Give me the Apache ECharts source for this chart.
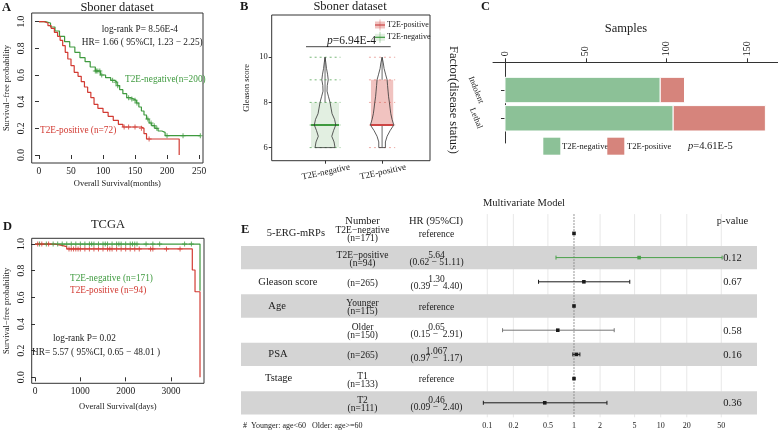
<!DOCTYPE html>
<html>
<head>
<meta charset="utf-8">
<script src="https://cdn.jsdelivr.net/npm/echarts@6/dist/echarts.min.js"></script>
<style>
html, body { margin: 0; padding: 0; background: #fff; }
#chart { width: 778px; height: 430px; }
</style>
</head>
<body>
<div id="chart"></div>
<script>
// ---- A: Sboner dataset, Kaplan-Meier ----
const aNegTime = [0, 10, 18, 25, 32, 40, 48, 56, 64, 72, 80, 88, 96, 104, 112, 118, 122, 126, 131, 137, 143, 148, 152, 156, 160, 164, 168, 172, 176, 181, 186, 192, 197, 252];
const aNegSurv = [1, 0.99, 0.96, 0.93, 0.89, 0.85, 0.81, 0.77, 0.73, 0.70, 0.66, 0.63, 0.60, 0.58, 0.56, 0.545, 0.52, 0.49, 0.46, 0.43, 0.42, 0.41, 0.39, 0.36, 0.33, 0.30, 0.27, 0.24, 0.22, 0.20, 0.18, 0.17, 0.145, 0.145];
const aPosTime = [0, 8, 14, 19, 24, 29, 33, 37, 41, 45, 50, 55, 61, 66, 71, 76, 81, 86, 92, 100, 108, 116, 124, 131, 160, 164, 168, 219];
const aPosSurv = [1, 0.99, 0.97, 0.95, 0.92, 0.89, 0.86, 0.82, 0.77, 0.72, 0.67, 0.62, 0.59, 0.55, 0.51, 0.47, 0.43, 0.38, 0.35, 0.32, 0.29, 0.26, 0.23, 0.21, 0.20, 0.16, 0.12, 0];
const aNegCensor = [88, 90, 92, 95, 98, 115, 120, 123, 140, 145, 150, 153, 170, 175, 180, 184, 200, 225, 252];
const aPosCensor = [133, 140, 150, 160, 172];
const aXTicks = [0, 50, 100, 150, 200, 250];
const kmYTicks = [0, 0.2, 0.4, 0.6, 0.8, 1];

// ---- B: Gleason score violin / box ----
const bGroups = ['T2E-negative', 'T2E-positive'];
const bQ1 = [6, 7];
const bMedian = [7, 7];
const bQ3 = [8, 9];
const bWhiskLow = [6, 6];
const bWhiskHigh = [10, 10];
const bLevels = [6, 6.25, 6.5, 6.75, 7, 7.25, 7.5, 7.75, 8, 8.25, 8.5, 8.75, 9, 9.25, 9.5, 9.75, 10];
const bNegDensity = [0.175, 0.158, 0.118, 0.149, 0.188, 0.167, 0.123, 0.105, 0.088, 0.061, 0.035, 0.039, 0.056, 0.044, 0.026, 0.014, 0];
const bPosDensity = [0.058, 0.058, 0.088, 0.14, 0.205, 0.175, 0.153, 0.14, 0.128, 0.114, 0.105, 0.096, 0.088, 0.061, 0.035, 0.021, 0];
const bPointLevels = [6, 7, 8, 9, 10];
const bYTicks = [6, 8, 10];

// ---- C: samples by disease status ----
const cCategories = ['Indolent', 'Lethal'];
const cNeg = [96, 104];
const cPos = [15, 57];
const cXTicks = [0, 50, 100, 150];

// ---- D: TCGA, Kaplan-Meier ----
const dNegTime = [0, 3640];
const dNegSurv = [1, 0.65];
const dPosTime = [0, 420, 590, 700, 3470, 3530, 3640];
const dPosSurv = [1, 0.99, 0.98, 0.963, 0.805, 0.642, 0];
const dNegCensor = [100, 250, 400, 500, 600, 700, 800, 900, 1000, 1100, 1200, 1250, 1300, 1400, 1500, 1550, 1600, 1700, 1800, 1850, 1900, 2000, 2100, 2150, 2200, 2250, 2450, 2600, 2750, 3300, 3450];
const dPosCensor = [60, 150, 300, 750, 800, 850, 900, 950, 1000, 1100, 1200, 1300, 1400, 1500, 1600, 1650, 1700, 1800, 1900, 2000, 2100, 2200, 2300, 2550, 2600, 2900, 3200];
const dXTicks = [0, 1000, 2000, 3000];

// ---- E: multivariate model ----
const eVariables = ['5-ERG-mRPs', '', 'Gleason score', 'Age', '', 'PSA', 'Tstage', ''];
const eNumbers = ['T2E\u2212negative\n(n=171)', 'T2E\u2212positive\n(n=94)', '(n=265)', 'Younger\n(n=115)', 'Older\n(n=150)', '(n=265)', 'T1\n(n=133)', 'T2\n(n=111)'];
const eHRText = ['reference', '5.64\n(0.62 \u2212 51.11)', '1.30\n(0.39 \u2212  4.40)', 'reference', '0.65\n(0.15 \u2212  2.91)', '1.067\n(0.97 \u2212  1.17)', 'reference', '0.46\n(0.09 \u2212  2.40)'];
const eHR = [1, 5.64, 1.30, 1, 0.65, 1.067, 1, 0.46];
const eLow = [null, 0.62, 0.39, null, 0.15, 0.97, null, 0.09];
const eHigh = [null, 51.11, 4.40, null, 2.91, 1.17, null, 2.40];
const ePValues = ['', '0.12', '0.67', '', '0.58', '0.16', '', '0.36'];
const eTicks = [0.1, 0.2, 0.5, 1, 2, 5, 10, 20, 50];
const eBandRows = [2, 4, 6, 8];

// ---- styles / layout ----
const FONT = 'Liberation Serif';
const INK = '#1a1a1a';
const GREEN = '#3f9a3f';
const RED = '#d23a32';
const BAR_GREEN = '#8cc197';
const BAR_RED = '#d6847c';
const PLUS = 'path://M4,0H6V4H10V6H6V10H4V6H0V4H4Z';
const bBoxHalf = [0.245, 0.195];
const bBoxFill = ['#e2efe1', '#f1c3c0'];
const bLineColor = [GREEN, '#cc4646'];
const bDashColor = ['rgba(63,154,63,0.7)', 'rgba(210,70,60,0.45)'];
const bJitterHalf = [0.27, 0.23];
const eColors = [INK, '#49a049', INK, INK, '#777', INK, INK, INK];
const eVarX = [266.7, 0, 258.3, 268.3, 0, 268.3, 265, 0];
const eNumX = 362.5, eHRX = 436.5, ePX = 723.3;

const zip = (xs, ys) => xs.map((x, i) => [x, ys[i]]);
function stepAt(times, surv, t) {
    let s = surv[0];
    for (let i = 0; i < times.length; i++) {
        if (times[i] <= t) s = surv[i];
    }
    return s;
}
const axisFont = (size) => ({ fontFamily: FONT, fontSize: size, color: INK });

function T(x, y, text, size, extra) {
    return {
        type: 'text', x: x, y: y, silent: true,
        style: Object.assign({ text: text, fontFamily: FONT, fontSize: size, fill: INK, align: 'left', verticalAlign: 'middle' }, extra || {}),
    };
}

function kmXAxis(grid, min, max, ticks, name, gap) {
    return {
        gridIndex: grid, type: 'value', min: min, max: max,
        axisLine: { show: false }, splitLine: { show: false },
        axisTick: { show: true, customValues: ticks, length: 4, lineStyle: { color: '#333' } },
        axisLabel: Object.assign({ customValues: ticks, margin: 3, formatter: (v) => String(v) }, axisFont(9.5)),
        name: name, nameLocation: 'middle', nameGap: gap, nameTextStyle: axisFont(8.5),
    };
}
function kmYAxis(grid, min, max) {
    return {
        gridIndex: grid, type: 'value', min: min, max: max,
        axisLine: { show: false }, splitLine: { show: false },
        axisTick: { show: true, customValues: kmYTicks, length: 4, lineStyle: { color: '#333' } },
        axisLabel: Object.assign({ customValues: kmYTicks, rotate: 90, margin: 5, formatter: (v) => v.toFixed(1) }, axisFont(9.5)),
        name: 'Survival\u2212free probability', nameLocation: 'middle', nameGap: 20, nameTextStyle: axisFont(8.5),
    };
}
function kmLine(grid, times, surv, color) {
    return {
        type: 'line', xAxisIndex: grid, yAxisIndex: grid, step: 'end', data: zip(times, surv),
        symbol: 'none', lineStyle: { color: color, width: 1.2 }, silent: true, z: 3,
    };
}
function kmCensor(grid, censor, times, surv, color) {
    return {
        type: 'scatter', xAxisIndex: grid, yAxisIndex: grid,
        data: censor.map((t) => [t, stepAt(times, surv, t)]),
        symbol: PLUS, symbolSize: 5, itemStyle: { color: color }, silent: true, z: 4,
    };
}

const chart = echarts.init(document.getElementById('chart'));

const option = {
    animation: false,
    backgroundColor: '#fff',
    grid: [
        { left: 31.7, top: 13, width: 171.3, height: 150, show: true, borderColor: '#333', borderWidth: 1 },
        { left: 271.7, top: 15, width: 158.3, height: 145.7, show: true, borderColor: '#333', borderWidth: 1 },
        { left: 493, top: 62.3, width: 285, height: 80.7 },
        { left: 31.7, top: 238.3, width: 172.3, height: 145, show: true, borderColor: '#333', borderWidth: 1 },
        { left: 241, top: 221.3, width: 516, height: 193.6 },
    ],
    xAxis: [
        kmXAxis(0, -11.4, 256.2, aXTicks, 'Overall Survival(months)', 16),
        {
            gridIndex: 1, type: 'value', min: 0.065, max: 2.84,
            axisLine: { show: false }, splitLine: { show: false },
            axisTick: { show: true, customValues: [1, 2], length: 3, lineStyle: { color: '#333' } },
            axisLabel: Object.assign({ customValues: [1, 2], rotate: 12, align: 'center', verticalAlign: 'top', margin: 7, formatter: (v) => bGroups[v - 1] }, axisFont(9)),
        },
        {
            gridIndex: 2, type: 'value', position: 'top', min: -7.4, max: 168.8,
            axisLine: { show: true, lineStyle: { color: '#333' } }, splitLine: { show: false },
            axisTick: { show: true, customValues: cXTicks, length: 4, lineStyle: { color: '#333' } },
            axisLabel: Object.assign({ customValues: cXTicks, rotate: -90, margin: 6 }, axisFont(10)),
        },
        kmXAxis(3, -73, 3728, dXTicks, 'Overall Survival(days)', 19),
        {
            gridIndex: 4, type: 'value', min: -3.841, max: 2.111,
            axisLine: { show: false }, axisTick: { show: false }, splitLine: { show: false },
            axisLabel: Object.assign({
                customValues: eTicks.map((v) => Math.log10(v)), margin: 7,
                formatter: (v) => String(parseFloat(Math.pow(10, v).toPrecision(2))),
            }, axisFont(8)),
        },
    ],
    yAxis: [
        kmYAxis(0, -0.06, 1.065),
        {
            gridIndex: 1, type: 'value', min: 5.42, max: 11.87,
            axisLine: { show: false }, splitLine: { show: false },
            axisTick: { show: true, customValues: bYTicks, length: 3, lineStyle: { color: '#333' } },
            axisLabel: Object.assign({ customValues: bYTicks, margin: 4 }, axisFont(8.5)),
            name: 'Gleason score', nameLocation: 'middle', nameGap: 20, nameTextStyle: axisFont(8.5),
        },
        {
            gridIndex: 2, type: 'value', inverse: true, min: 0.02, max: 2.873,
            axisLine: { show: true, lineStyle: { color: '#333' } }, splitLine: { show: false },
            axisTick: { show: true, customValues: [1, 2], length: 4, lineStyle: { color: '#333' } },
            axisLabel: Object.assign({ customValues: [1, 2], rotate: -68, align: 'center', verticalAlign: 'middle', margin: 17, formatter: (v) => cCategories[v - 1] }, axisFont(8.5)),
        },
        kmYAxis(3, -0.045, 1.043),
        { gridIndex: 4, type: 'value', inverse: true, min: 0.5, max: 8.5, show: false },
    ],
    series: [
        // A
        kmLine(0, aNegTime, aNegSurv, GREEN),
        kmLine(0, aPosTime, aPosSurv, RED),
        kmCensor(0, aNegCensor, aNegTime, aNegSurv, GREEN),
        kmCensor(0, aPosCensor, aPosTime, aPosSurv, RED),
        // B boxes
        {
            type: 'custom', xAxisIndex: 1, yAxisIndex: 1, silent: true, z: 2,
            data: bGroups.map((g, i) => [i + 1, bMedian[i]]),
            renderItem: (params, api) => {
                const i = params.dataIndex, pos = i + 1, hw = bBoxHalf[i];
                const p1 = api.coord([pos - hw, bQ3[i]]);
                const p2 = api.coord([pos + hw, bQ1[i]]);
                const m1 = api.coord([pos - hw, bMedian[i]]);
                const m2 = api.coord([pos + hw, bMedian[i]]);
                const wl = api.coord([pos, bWhiskLow[i]]);
                const wh = api.coord([pos, bWhiskHigh[i]]);
                return {
                    type: 'group', children: [
                        { type: 'rect', shape: { x: p1[0], y: p1[1], width: p2[0] - p1[0], height: p2[1] - p1[1] }, style: { fill: bBoxFill[i] } },
                        { type: 'line', shape: { x1: wl[0], y1: wl[1], x2: wl[0], y2: p2[1] }, style: { stroke: '#444', lineWidth: 0.8 } },
                        { type: 'line', shape: { x1: wh[0], y1: wh[1], x2: wh[0], y2: p1[1] }, style: { stroke: '#444', lineWidth: 0.8 } },
                        { type: 'line', shape: { x1: m1[0], y1: m1[1], x2: m2[0], y2: m2[1] }, style: { stroke: bLineColor[i], lineWidth: 2 } },
                    ],
                };
            },
        },
        // B jittered points (shown as dashed rows at each score)
        {
            type: 'custom', xAxisIndex: 1, yAxisIndex: 1, silent: true, z: 3,
            data: bGroups.map((g, i) => [i + 1, bMedian[i]]),
            renderItem: (params, api) => {
                const i = params.dataIndex, pos = i + 1;
                return {
                    type: 'group',
                    children: bPointLevels.map((lv) => {
                        const a = api.coord([pos - bJitterHalf[i], lv]);
                        const b = api.coord([pos + bJitterHalf[i], lv]);
                        return { type: 'line', shape: { x1: a[0], y1: a[1], x2: b[0], y2: b[1] }, style: { stroke: bDashColor[i], lineWidth: 1, lineDash: [2, 3] } };
                    }),
                };
            },
        },
        // B violins
        {
            type: 'custom', xAxisIndex: 1, yAxisIndex: 1, silent: true, z: 4,
            data: bGroups.map((g, i) => [i + 1, bMedian[i]]),
            renderItem: (params, api) => {
                const i = params.dataIndex, pos = i + 1;
                const dens = i === 0 ? bNegDensity : bPosDensity;
                const pts = [];
                bLevels.forEach((lv, k) => pts.push(api.coord([pos - dens[k], lv])));
                for (let k = bLevels.length - 1; k >= 0; k--) pts.push(api.coord([pos + dens[k], bLevels[k]]));
                return { type: 'polygon', shape: { points: pts }, style: { fill: 'none', stroke: '#333', lineWidth: 0.8 } };
            },
        },
        // C stacked bars
        {
            type: 'custom', name: 'T2E-negative', xAxisIndex: 2, yAxisIndex: 2, silent: true,
            data: cCategories.map((c, i) => [i + 1, cNeg[i]]),
            renderItem: (params, api) => {
                const i = params.dataIndex, r = i + 1;
                const p1 = api.coord([0, r - 0.449]);
                const p2 = api.coord([cNeg[i], r + 0.449]);
                return { type: 'rect', shape: { x: p1[0], y: p1[1], width: p2[0] - p1[0], height: p2[1] - p1[1] }, style: { fill: BAR_GREEN, stroke: '#fff', lineWidth: 1 } };
            },
        },
        {
            type: 'custom', name: 'T2E-positive', xAxisIndex: 2, yAxisIndex: 2, silent: true,
            data: cCategories.map((c, i) => [i + 1, cPos[i]]),
            renderItem: (params, api) => {
                const i = params.dataIndex, r = i + 1;
                const p1 = api.coord([cNeg[i], r - 0.449]);
                const p2 = api.coord([cNeg[i] + cPos[i], r + 0.449]);
                return { type: 'rect', shape: { x: p1[0], y: p1[1], width: p2[0] - p1[0], height: p2[1] - p1[1] }, style: { fill: BAR_RED, stroke: '#fff', lineWidth: 1 } };
            },
        },
        // D
        kmLine(3, dNegTime, dNegSurv, GREEN),
        kmLine(3, dPosTime, dPosSurv, RED),
        kmCensor(3, dNegCensor, dNegTime, dNegSurv, GREEN),
        kmCensor(3, dPosCensor, dPosTime, dPosSurv, RED),
        // E grid lines
        {
            type: 'custom', xAxisIndex: 4, yAxisIndex: 4, silent: true, z: 1,
            data: eTicks.filter((v) => v !== 1).map((v) => [Math.log10(v), 1]),
            renderItem: (params, api) => {
                const a = api.coord([api.value(0), 0.2]);
                const b = api.coord([api.value(0), 8.6]);
                return { type: 'line', shape: { x1: a[0], y1: a[1], x2: b[0], y2: b[1] }, style: { stroke: '#e2e2e2', lineWidth: 0.8 } };
            },
        },
        // E bands
        {
            type: 'custom', xAxisIndex: 4, yAxisIndex: 4, silent: true, z: 2,
            data: eBandRows.map((r) => [0, r]),
            renderItem: (params, api) => {
                const cs = params.coordSys;
                const r = api.value(1);
                const top = api.coord([0, r - 0.482])[1];
                const bot = api.coord([0, r + 0.482])[1];
                return { type: 'rect', shape: { x: cs.x, y: top, width: cs.width, height: bot - top }, style: { fill: '#d4d4d4' } };
            },
        },
        // E reference line at HR = 1
        {
            type: 'custom', xAxisIndex: 4, yAxisIndex: 4, silent: true, z: 3,
            data: [[Math.log10(1), 1]],
            renderItem: (params, api) => {
                const a = api.coord([api.value(0), 0.2]);
                const b = api.coord([api.value(0), 8.6]);
                return { type: 'line', shape: { x1: a[0], y1: a[1], x2: b[0], y2: b[1] }, style: { stroke: '#8a8a8a', lineWidth: 0.9, lineDash: [2, 1] } };
            },
        },
        // E estimates and CIs
        {
            type: 'custom', xAxisIndex: 4, yAxisIndex: 4, silent: true, z: 4,
            data: eHR.map((v, i) => [Math.log10(v), i + 1]),
            renderItem: (params, api) => {
                const i = params.dataIndex, row = i + 1, col = eColors[i];
                const kids = [];
                const c = api.coord([Math.log10(eHR[i]), row]);
                if (eLow[i] != null) {
                    const l = api.coord([Math.log10(eLow[i]), row]);
                    const h = api.coord([Math.log10(eHigh[i]), row]);
                    kids.push({ type: 'line', shape: { x1: l[0], y1: l[1], x2: h[0], y2: h[1] }, style: { stroke: col, lineWidth: 1 } });
                    kids.push({ type: 'line', shape: { x1: l[0], y1: l[1] - 2, x2: l[0], y2: l[1] + 2 }, style: { stroke: col, lineWidth: 1 } });
                    kids.push({ type: 'line', shape: { x1: h[0], y1: h[1] - 2, x2: h[0], y2: h[1] + 2 }, style: { stroke: col, lineWidth: 1 } });
                }
                kids.push({ type: 'rect', shape: { x: c[0] - 1.8, y: c[1] - 1.8, width: 3.6, height: 3.6 }, style: { fill: col === '#777' ? INK : col } });
                return { type: 'group', children: kids };
            },
        },
        // E table text
        {
            type: 'custom', xAxisIndex: 4, yAxisIndex: 4, silent: true, z: 5,
            data: eHR.map((v, i) => [0, i + 1]),
            renderItem: (params, api) => {
                const i = params.dataIndex;
                const y = api.coord([0, i + 1])[1];
                const st = (text, size, align, lh) => ({ text: text, fontFamily: FONT, fontSize: size, fill: INK, align: align, verticalAlign: 'middle', lineHeight: lh });
                const kids = [
                    { type: 'text', x: eNumX, y: y + 1.5, style: st(eNumbers[i], 9.5, 'center', 8) },
                    { type: 'text', x: eHRX, y: y + 1, style: st(eHRText[i], 9.5, 'center', 7) },
                ];
                if (eVariables[i]) kids.push({ type: 'text', x: eVarX[i], y: y, style: st(eVariables[i], 10.5, 'left', 12) });
                if (ePValues[i]) kids.push({ type: 'text', x: ePX, y: y + 0.7, style: st(ePValues[i], 10.5, 'left', 12) });
                return { type: 'group', children: kids };
            },
        },
    ],
    graphic: [
        // panel letters and titles
        T(2, 8, 'A', 12.5, { fontWeight: 'bold' }),
        T(240, 7, 'B', 12.5, { fontWeight: 'bold' }),
        T(481, 7, 'C', 12.5, { fontWeight: 'bold' }),
        T(3, 227, 'D', 12.5, { fontWeight: 'bold' }),
        T(241, 230, 'E', 12.5, { fontWeight: 'bold' }),
        T(117, 7.5, 'Sboner dataset', 12.5, { align: 'center' }),
        T(350, 7, 'Sboner dataset', 12.5, { align: 'center' }),
        T(108, 225, 'TCGA', 12.5, { align: 'center' }),
        T(626, 28.3, 'Samples', 12.5, { align: 'center' }),
        T(524, 203, 'Multivariate Model', 10.5, { align: 'center' }),
        // A annotations
        T(101.7, 30, 'log-rank P= 8.56E-4', 9.3),
        T(81.7, 42.7, 'HR= 1.66 ( 95%CI, 1.23 \u2212 2.25)', 9.3),
        T(125, 80, 'T2E-negative(n=200)', 9.3, { fill: GREEN }),
        T(40, 131, 'T2E-positive (n=72)', 9.3, { fill: RED }),
        // B annotations and legend
        { type: 'line', silent: true, shape: { x1: 306, y1: 46.7, x2: 390.7, y2: 46.7 }, style: { stroke: '#333', lineWidth: 0.9 } },
        T(351.5, 40.5, '{i|p}=6.94E-4', 11.5, { align: 'center', rich: { i: { fontStyle: 'italic', fontFamily: FONT, fontSize: 11.5, fill: INK } } }),
        { type: 'rect', silent: true, shape: { x: 375, y: 21.5, width: 10, height: 7 }, style: { fill: '#f1c3c0' } },
        { type: 'line', silent: true, shape: { x1: 375, y1: 25, x2: 385, y2: 25 }, style: { stroke: '#cc4646', lineWidth: 1.2 } },
        { type: 'line', silent: true, shape: { x1: 380, y1: 19.5, x2: 380, y2: 30.5 }, style: { stroke: 'rgba(200,70,70,0.5)', lineWidth: 0.8 } },
        T(387, 25, 'T2E-positive', 8),
        { type: 'rect', silent: true, shape: { x: 375, y: 33.8, width: 10, height: 7 }, style: { fill: '#e2efe1' } },
        { type: 'line', silent: true, shape: { x1: 375, y1: 37.3, x2: 385, y2: 37.3 }, style: { stroke: GREEN, lineWidth: 1.2 } },
        { type: 'line', silent: true, shape: { x1: 380, y1: 31.8, x2: 380, y2: 42.8 }, style: { stroke: 'rgba(63,154,63,0.5)', lineWidth: 0.8 } },
        T(387, 37.3, 'T2E-negative', 8),
        // C axis name and legend
        Object.assign(T(453.3, 100, 'Factor(disease status)', 12.5, { align: 'center' }), { rotation: -Math.PI / 2 }),
        { type: 'rect', silent: true, shape: { x: 543.3, y: 137.7, width: 17, height: 17 }, style: { fill: BAR_GREEN } },
        T(562, 146.5, 'T2E-negative', 8.5),
        { type: 'rect', silent: true, shape: { x: 607.3, y: 137.7, width: 17, height: 17 }, style: { fill: BAR_RED } },
        T(627, 146.5, 'T2E-positive', 8.5),
        T(688, 146.5, '{i|p}=4.61E-5', 10.5, { rich: { i: { fontStyle: 'italic', fontFamily: FONT, fontSize: 10.5, fill: INK } } }),
        // D annotations
        T(70, 278.3, 'T2E-negative (n=171)', 9.3, { fill: GREEN }),
        T(70, 291, 'T2E-positive (n=94)', 9.3, { fill: RED }),
        T(53, 338.3, 'log-rank P= 0.02', 9.3),
        T(32, 352.3, 'HR= 5.57 ( 95%CI, 0.65 \u2212 48.01 )', 9.3),
        // E headers and footnote
        T(362.5, 221, 'Number', 10.5, { align: 'center' }),
        T(436, 221, 'HR (95%CI)', 10.5, { align: 'center' }),
        T(732.5, 221, 'p-value', 10.5, { align: 'center' }),
        T(243, 425.7, '#  Younger: age<60   Older: age>=60', 8),
    ],
};

chart.setOption(option);
</script>
</body>
</html>
